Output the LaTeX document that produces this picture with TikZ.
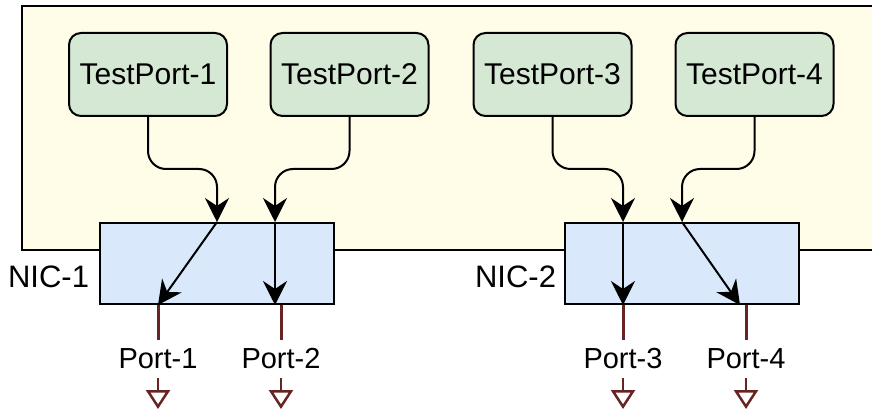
\documentclass[tikz,border=0pt]{standalone}
\usepackage{fontspec}
\setmainfont{Liberation Sans}
\definecolor{Y}{HTML}{FFFCE8}
\definecolor{G}{HTML}{D5E8D4}
\definecolor{B}{HTML}{DAE8FC}
\definecolor{R}{RGB}{105,35,35}
\usetikzlibrary{arrows.meta}
\usetikzlibrary{positioning}
\usetikzlibrary{calc}
\tikzstyle{base}=[x=1pt, y=-1pt, line width=2pt]
\tikzstyle{testport}=[draw, fill=G, rounded corners=12pt, minimum width=158pt, minimum height=83pt, inner sep=0pt, font=\fontsize{30}{33}\selectfont]
\tikzstyle{nic}=[draw, fill=B, minimum width=234pt, minimum height=81pt, inner sep=0pt]
\tikzstyle{niclabel}=[anchor=east, inner sep=0pt, font=\fontsize{31}{34}\selectfont]
\tikzstyle{portlabel}=[fill=white, inner sep=8pt, font=\fontsize{29}{32}\selectfont]
\tikzstyle{link}=[draw, rounded corners=18pt, -{Stealth[length=24pt, width=24pt, inset=8pt]}]
\tikzstyle{stub}=[draw=R, line width=3pt]
\tikzstyle{stubend}=[stub, line width=2.5pt, -{Triangle[open, length=19pt, width=24pt]}]

\begin{document}
\begin{tikzpicture}[base]
    \useasboundingbox (0,0) rectangle (872,411);
    \draw [fill=Y] (22,6) rectangle (880,250);
    % test ports
    \node [testport] (tp1) at (148,74.5) {TestPort-1};
    \node [testport] (tp2) at (349.5,74.5) {TestPort-2};
    \node [testport] (tp3) at (552.5,74.5) {TestPort-3};
    \node [testport] (tp4) at (754.5,74.5) {TestPort-4};
    % nics
    \node [nic] (nic1) at (217,263.5) {};
    \node [nic] (nic2) at (682,263.5) {};
    \node [niclabel] (nic1label) at (90,277) {NIC-1};
    \node [niclabel] (nic2label) at (557,277) {NIC-2};
    % points on the nic edges
    \coordinate (in1) at (nic1.north);
    \coordinate (in2) at ($(nic1.north)+(58,0)$);
    \coordinate (in3) at ($(nic2.north)+(-59,0)$);
    \coordinate (in4) at (nic2.north);
    \coordinate (out1) at ($(nic1.south)+(-59,0)$);
    \coordinate (out2) at ($(nic1.south)+(58,0)$);
    \coordinate (out3) at ($(nic2.south)+(-59,0)$);
    \coordinate (out4) at ($(nic2.south)+(58,0)$);
    \coordinate (stub1) at (out1);
    \coordinate (stub2) at ($(nic1.south)+(64,0)$);
    \coordinate (stub3) at (out3);
    \coordinate (stub4) at ($(nic2.south)+(64,0)$);
    % links
    \draw [link] (tp1.south) -- ++(0,52) -| (in1);
    \draw [link] (tp2.south) -- ++(0,52) -| (in2);
    \draw [link] (tp3.south) -- ++(0,52) -| (in3);
    \draw [link] (tp4.south) -- ++(0,52) -| (in4);
    \draw [link] (in1) -- (out1);
    \draw [link] (in2) -- (out2);
    \draw [link] (in3) -- (out3);
    \draw [link] (in4) -- (out4);
    % ports
    \foreach \i in {1,...,4} {
        \node [portlabel] (port\i) at ($(stub\i)+(0,54)$) {Port-\i};
        \coordinate (end\i) at ($(stub\i)+(0,104)$);
        \draw [stub] (stub\i) -- (port\i.north);
        \draw [stubend] (port\i.south) -- (end\i);
    }
\end{tikzpicture}
\end{document}
